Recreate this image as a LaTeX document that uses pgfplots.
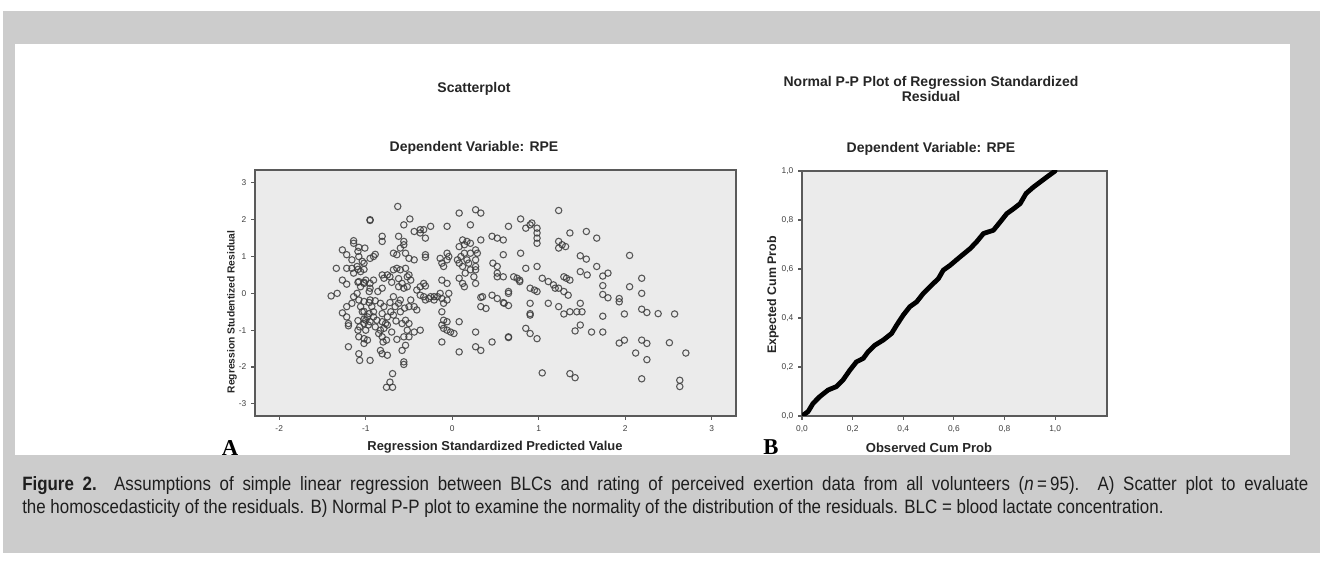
\documentclass[border=0pt]{standalone}
\usepackage{fontspec}
\setmainfont{Liberation Sans}
\newfontfamily\panelfont{Liberation Serif}
\newfontfamily\capfont[FakeStretch=0.875]{Liberation Sans}
\usepackage{pgfplots}
\usepackage{pgfplotstable}
\pgfplotsset{compat=1.18}
\definecolor{framegray}{HTML}{CCCCCC}
\definecolor{plotbg}{HTML}{EBEBEB}
\definecolor{axisline}{HTML}{5A5A5A}
\definecolor{circgray}{HTML}{3C3C3C}
\definecolor{captext}{HTML}{1E1E1E}

% studentized residual vs standardized predicted value
\pgfplotstableread{
x y
-1.40 -0.07
-1.33 0.00
-1.34 0.68
-1.27 1.18
-1.27 0.36
-1.22 0.25
-1.27 -0.53
-1.22 -0.64
-1.20 -0.82
-1.20 -0.88
-1.20 -1.45
-1.22 1.05
-1.16 0.91
-1.14 1.43
-1.14 1.36
-1.08 1.25
-1.01 1.23
-1.08 1.00
-1.02 0.82
-1.22 0.68
-1.16 0.68
-1.14 0.55
-1.10 0.73
-1.06 0.59
-1.22 -0.36
-1.16 -0.27
-1.14 -0.09
-1.10 0.00
-1.08 -0.18
-1.06 -0.36
-1.04 -0.50
-1.08 0.32
-1.06 0.18
-1.02 0.27
-1.00 0.36
-1.08 -1.64
-1.07 -1.82
-0.95 -1.82
-1.08 -1.18
-1.02 -1.23
-1.02 -1.36
-0.98 -1.27
-1.07 -0.91
-1.02 -0.82
-1.00 -1.00
-0.97 -0.86
-1.00 -0.73
-0.98 -0.64
-0.95 -0.77
-0.95 2.00
-0.95 1.98
-0.95 0.95
-0.91 1.00
-0.89 1.06
-0.95 -0.18
-0.93 -0.36
-0.91 -0.50
-0.91 0.36
-0.95 0.27
-0.95 0.14
-0.91 -0.64
-0.87 -0.73
-0.89 -0.91
-0.85 -1.09
-0.81 -1.18
-0.80 -1.32
-0.76 -1.27
-0.83 -1.00
-0.79 -0.95
-0.81 1.55
-0.81 1.41
-0.81 0.50
-0.79 0.41
-0.75 0.50
-0.81 0.14
-0.83 -0.27
-0.79 -0.36
-0.81 -0.55
-0.75 -0.64
-0.81 -0.77
-0.77 -0.82
-0.75 -0.86
-0.71 -0.50
-0.68 -0.59
-0.83 -1.55
-0.81 -1.64
-0.75 -1.68
-0.69 -2.18
-0.72 -2.41
-0.69 -2.55
-0.76 -2.55
-0.68 1.09
-0.64 1.05
-0.68 0.64
-0.64 0.68
-0.60 0.64
-0.63 2.36
-0.68 -0.09
-0.66 -0.36
-0.62 -0.27
-0.60 -0.18
-0.62 0.18
-0.58 0.27
-0.56 0.14
-0.52 0.18
-0.62 1.55
-0.56 1.41
-0.56 1.32
-0.56 1.86
-0.49 2.02
-0.44 1.68
-0.37 1.73
-0.60 1.23
-0.54 1.09
-0.50 0.95
-0.44 0.91
-0.54 0.68
-0.52 0.45
-0.50 0.50
-0.48 0.36
-0.50 -0.36
-0.48 -0.18
-0.44 -0.36
-0.41 -0.45
-0.58 -0.82
-0.54 -0.73
-0.50 -0.82
-0.56 -1.18
-0.54 -1.41
-0.58 -1.55
-0.56 -1.86
-0.56 -1.93
-0.52 -1.00
-0.50 -1.18
-0.44 -1.05
-0.37 -1.00
-0.41 0.09
-0.37 0.18
-0.33 0.27
-0.31 0.20
-0.37 1.64
-0.33 1.73
-0.31 1.50
-0.25 1.82
-0.31 1.05
-0.31 0.98
-0.37 -0.05
-0.33 -0.09
-0.31 -0.18
-0.25 -0.09
-0.21 -0.09
-0.17 -0.09
-0.27 -0.14
-0.21 -0.18
-0.14 0.95
-0.12 0.82
-0.10 0.73
-0.06 0.91
-0.04 1.00
-0.06 1.09
-0.06 1.82
-0.12 0.36
-0.06 0.27
-0.14 0.00
-0.12 -0.14
-0.10 -0.27
-0.06 -0.18
-0.04 0.00
-0.12 -0.50
-0.10 -0.73
-0.12 -0.86
-0.10 -0.95
-0.06 -1.00
-0.02 -1.05
0.02 -1.09
-0.06 -0.77
-0.12 -1.32
0.08 2.18
0.08 -0.77
0.08 -1.59
0.06 0.91
0.10 1.00
0.08 0.82
0.14 1.09
0.12 0.73
0.15 0.55
0.08 1.27
0.14 1.32
0.12 1.45
0.17 1.41
0.21 1.36
0.08 0.41
0.12 0.27
0.14 0.18
0.17 0.91
0.19 0.82
0.21 1.09
0.21 0.64
0.21 1.86
0.27 1.18
0.29 1.09
0.27 0.91
0.27 0.73
0.27 0.64
0.25 0.45
0.27 0.27
0.27 2.27
0.33 2.18
0.33 1.45
0.27 -1.05
0.27 -1.45
0.33 -1.55
0.33 -0.36
0.39 -0.41
0.35 -0.09
0.33 -0.11
0.46 1.55
0.52 1.50
0.59 1.45
0.47 0.82
0.52 0.73
0.52 0.55
0.52 0.45
0.46 -0.05
0.52 -0.14
0.59 -0.25
0.65 -0.33
0.46 -1.32
0.65 1.82
0.59 1.05
0.59 0.45
0.60 -0.27
0.65 0.05
0.65 0.00
0.65 -1.18
0.65 -1.20
0.71 0.45
0.75 0.41
0.78 0.36
0.79 2.02
0.79 1.09
0.78 0.32
0.85 1.77
0.85 0.68
0.85 -0.95
0.90 1.86
0.92 1.91
0.98 1.77
0.98 1.64
0.98 1.50
0.98 1.36
0.98 0.73
0.90 0.14
0.95 0.09
0.98 0.05
0.90 -0.27
0.90 -0.55
0.90 -0.59
0.90 -1.09
0.98 -1.23
1.04 0.41
1.11 0.32
1.17 0.23
1.19 0.14
1.11 -0.27
1.04 -2.16
1.23 2.25
1.23 1.41
1.27 1.32
1.23 1.23
1.31 1.27
1.23 0.14
1.29 0.05
1.34 -0.05
1.29 0.45
1.32 0.41
1.36 0.36
1.23 -0.36
1.29 -0.56
1.36 -0.50
1.44 -0.50
1.50 -0.50
1.36 1.64
1.36 -2.18
1.42 -2.29
1.42 -1.02
1.48 -0.86
1.48 0.59
1.56 0.50
1.48 1.02
1.55 0.93
1.48 -0.27
1.55 1.68
1.61 -1.05
1.67 1.50
1.67 0.73
1.74 0.47
1.80 0.55
1.74 0.21
1.74 -0.03
1.80 -0.12
1.74 -0.62
1.74 -1.05
1.93 -0.14
1.93 -0.23
1.93 -1.35
1.99 -1.27
1.99 -0.56
2.05 1.03
2.05 0.18
2.12 -1.62
2.19 0.41
2.19 0.00
2.19 -0.43
2.25 -0.52
2.19 -1.27
2.25 -1.36
2.25 -1.80
2.19 -2.32
2.38 -0.55
2.51 -1.34
2.57 -0.56
2.63 -2.36
2.63 -2.53
2.70 -1.62
-1.09 1.14
-1.04 0.87
-1.09 0.65
-1.02 0.65
-1.09 0.30
-1.02 0.30
-0.96 0.05
-1.02 -0.22
-0.96 -0.25
-1.02 -0.49
-0.96 -0.55
-1.09 -0.74
-1.02 -0.70
-1.09 -1.00
-0.89 -0.20
-0.86 0.05
-0.72 -0.25
-0.70 0.30
-0.72 0.45
-0.62 0.40
-0.60 -0.50
-0.65 -0.75
-0.55 -0.40
-0.70 -1.05
-0.64 -1.25
}\resid

% normal P-P plot
\pgfplotstableread{
x y
0.000 0.000
0.024 0.018
0.044 0.052
0.070 0.079
0.103 0.106
0.136 0.120
0.162 0.147
0.189 0.187
0.215 0.221
0.242 0.235
0.261 0.262
0.288 0.289
0.321 0.310
0.354 0.337
0.374 0.371
0.400 0.412
0.426 0.446
0.453 0.466
0.479 0.500
0.512 0.534
0.539 0.561
0.558 0.595
0.585 0.615
0.624 0.649
0.664 0.683
0.690 0.711
0.717 0.745
0.756 0.758
0.783 0.792
0.809 0.826
0.836 0.846
0.862 0.867
0.885 0.908
0.915 0.935
0.968 0.976
1.000 1.000
}\pp

\pgfplotsset{
  spss/.style={
    scale only axis, anchor=south west,
    axis background/.style={fill=plotbg},
    axis line style={axisline, line width=1.1pt},
    tick pos=left, tick align=outside,
    major tick length=3pt,
    tick style={axisline, line width=0.8pt},
    ticklabel style={font=\fontsize{6.3}{7}\selectfont, text=black!75},
    xticklabel style={yshift=-1pt},
  },
}

\begin{document}
\begin{tikzpicture}[x=0.75pt,y=0.75pt]
\path[use as bounding box] (0,0) rectangle (1323,563);
\fill[framegray] (3,10) rectangle (1320,552);
\fill[white] (15,108) rectangle (1290,519);

\coordinate (swA) at (255,147);
\coordinate (swB) at (802,147);

\begin{axis}[spss, at={(swA)},
  width=360.75pt, height=184.5pt,
  xmin=-2.28, xmax=3.28, ymin=-3.33, ymax=3.35,
  xtick={-2,-1,0,1,2,3}, xticklabels={-2,-1,0,1,2,3},
  ytick={-3,-2,-1,0,1,2,3}, yticklabels={-3,-2,-1,0,1,2,3},
]
\addplot[only marks, mark=o, mark size=2.4pt,
  mark options={draw=circgray, line width=0.8pt, draw opacity=0.85}] table {\resid};
\end{axis}

\begin{axis}[spss, at={(swB)},
  width=228.75pt, height=183.75pt,
  xmin=0, xmax=1.205, ymin=0, ymax=1,
  xtick={0,0.2,0.4,0.6,0.8,1}, xticklabels={{0,0},{0,2},{0,4},{0,6},{0,8},{1,0}},
  ytick={0,0.2,0.4,0.6,0.8,1}, yticklabels={{0,0},{0,2},{0,4},{0,6},{0,8},{1,0}},
]
\addplot[black, line width=3.6pt, line join=round, line cap=round] table {\pp};
\end{axis}

\begin{scope}[font=\bfseries\fontsize{10.5}{12}\selectfont, text=black!85]
\node at (474,474) {Scatterplot};
\node at (474,415) {Dependent Variable: RPE};
\node at (931,480) {Normal P-P Plot of Regression Standardized};
\node at (931,466) {Residual};
\node at (931,414) {Dependent Variable: RPE};
\node[font=\bfseries\fontsize{9.7}{11}\selectfont] at (495,116) {Regression Standardized Predicted Value};
\node[font=\bfseries\fontsize{9.8}{11}\selectfont] at (929,115) {Observed Cum Prob};
\node[rotate=90, font=\bfseries\fontsize{7.7}{9}\selectfont] at (232,251) {Regression Studentized Residual};
\node[rotate=90, font=\bfseries\fontsize{9.3}{11}\selectfont] at (773,268) {Expected Cum Prob};
\end{scope}

\node[font=\panelfont\bfseries\fontsize{17}{17}\selectfont] at (230,115) {A};
\node[font=\panelfont\bfseries\fontsize{17}{17}\selectfont] at (771,116) {B};

\begin{scope}[font=\capfont\fontsize{14.5}{17}\selectfont, text=captext]
\node[anchor=base west, inner sep=0pt] at (22,72) {\makebox[964.5pt][s]{{\bfseries Figure 2.}\ \ Assumptions of simple linear regression between BLCs and rating of perceived exertion data from all volunteers (\textit{n}\,=\,95). A) Scatter plot to evaluate}};
\node[anchor=base west, inner sep=0pt] at (22,49) {the homoscedasticity of the residuals. B) Normal P-P plot to examine the normality of the distribution of the residuals. BLC = blood lactate concentration.};
\end{scope}
\end{tikzpicture}
\end{document}
